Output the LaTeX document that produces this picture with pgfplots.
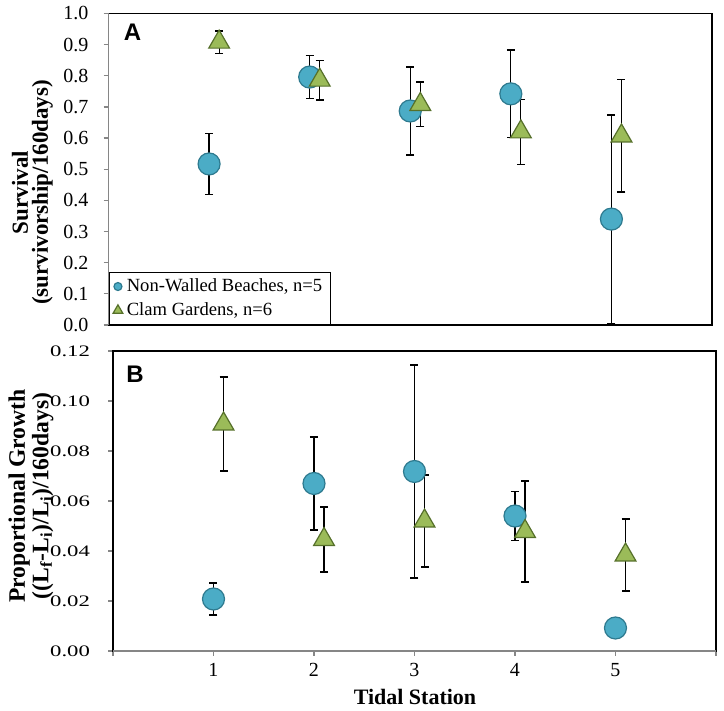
\documentclass[border=0pt]{standalone}
\usepackage{pgfplots}
\pgfplotsset{compat=1.18}
\usepackage{pgfplotstable}
\usepackage{fontspec}
\setmainfont{Liberation Serif}
\newfontfamily\panelfont{Liberation Sans}
\definecolor{nwfill}{HTML}{4BACC6}
\definecolor{nwedge}{HTML}{2E7A8F}
\definecolor{cgfill}{HTML}{9BBB59}
\definecolor{cgedge}{HTML}{56702A}
\definecolor{axgray}{HTML}{868686}

\pgfplotstableread{
x y e
1 0.517 0.097
2 0.796 0.070
3 0.687 0.141
4 0.742 0.141
5 0.340 0.334
}\topnw
\pgfplotstableread{
x y e
1.1 0.908 0.036
2.1 0.786 0.064
3.1 0.708 0.072
4.1 0.620 0.105
5.1 0.607 0.180
}\topcg
\pgfplotstableread{
x y e
1 0.0208 0.0064
2 0.0670 0.0186
3 0.0718 0.0426
4 0.0540 0.0098
5 0.0092 0.0000
}\botnw
\pgfplotstableread{
x y e
1.1 0.0908 0.0188
2.1 0.0446 0.0130
3.1 0.0520 0.0184
4.1 0.0478 0.0202
5.1 0.0384 0.0144
}\botcg

\pgfplotsset{
  panel/.style={
    scale only axis, xmin=0, xmax=6, clip=false,
    axis line style={black, line width=0.75pt},
    tick align=outside, major tick length=2.5pt,
    tick style={axgray, line width=0.6pt},
    ytick pos=left, xtick pos=bottom,
    tick label style={font=\rmfamily\fontsize{10}{12}\selectfont},
    /pgf/number format/assume math mode=true,
  },
  nw/.style={only marks, mark=*, mark size=5.5pt,
    mark options={fill=nwfill, draw=nwedge, line width=0.6pt},
    legend image code/.code={\draw[##1, mark size=2pt] plot coordinates {(0pt,0pt)};},
    error bars/.cd, y dir=both, y explicit,
    error bar style={black, line width=0.6pt},
    error mark options={rotate=90, mark size=2pt, black, line width=0.6pt}},
  cg/.style={only marks, mark=triangle*, mark size=6pt,
    mark options={fill=cgfill, draw=cgedge, line width=0.6pt},
    legend image code/.code={\draw[##1, mark size=2.8pt] plot coordinates {(0pt,0pt)};},
    error bars/.cd, y dir=both, y explicit,
    error bar style={black, line width=0.6pt},
    error mark options={rotate=90, mark size=2pt, black, line width=0.6pt}},
}

\begin{document}
\begin{tikzpicture}
\useasboundingbox (0,0) rectangle (362pt,355.5pt);

% ---- Panel A ----
\begin{axis}[panel,
  at={(54.25pt,193pt)}, anchor=south west,
  width=301.75pt, height=155.75pt,
  ymin=0, ymax=1, ytick={0,0.1,...,1.0}, xtick=\empty,
  yticklabel style={xshift=-4pt, /pgf/number format/.cd, fixed, fixed zerofill, precision=1},
  legend style={at={(0,0)}, anchor=south west, draw=black, line width=0.6pt,
    fill=white, inner xsep=2pt, inner ysep=1pt,
    font=\fontsize{9.3}{11}\selectfont, row sep=0pt,
    /tikz/every odd column/.append style={column sep=0pt}},
  legend cell align=left,
  after end axis/.code={\draw[axgray, line width=0.75pt] (rel axis cs:0,0) -- (rel axis cs:0,1);},
]
\addplot[nw] table[x=x, y=y, y error=e] {\topnw};
\addlegendentry{Non-Walled Beaches, n=5}
\addplot[cg] table[x=x, y=y, y error=e] {\topcg};
\addlegendentry{Clam Gardens, n=6}
\end{axis}

% ---- Panel B ----
\begin{axis}[panel,
  at={(56.5pt,30pt)}, anchor=south west,
  width=301.5pt, height=150pt,
  ymin=0, ymax=0.12, ytick={0,0.02,0.04,0.06,0.08,0.10,0.12},
  xtick={0,1,2,3,4,5,6}, xticklabels={{},1,2,3,4,5,{}},
  yticklabel style={xshift=-4pt, xscale=1.42, font=\rmfamily\fontsize{8}{10}\selectfont,
    /pgf/number format/.cd, fixed, fixed zerofill, precision=2},
  after end axis/.code={\draw[axgray, line width=0.75pt] (rel axis cs:0,0) -- (rel axis cs:1,0);},
]
\addplot[nw] table[x=x, y=y, y error=e] {\botnw};
\addplot[cg] table[x=x, y=y, y error=e] {\botcg};
\end{axis}

% labels
\node[font=\panelfont\bfseries\fontsize{12}{14}\selectfont] at (66.25pt,339.25pt) {A};
\node[font=\panelfont\bfseries\fontsize{12}{14}\selectfont] at (67.5pt,168.25pt) {B};
\node[rotate=90, align=center, font=\fontsize{11.5}{10}\selectfont\bfseries] at (16.25pt,259.25pt) {Survival\\(survivorship/160days)};
\node[rotate=90, align=center, font=\fontsize{11.8}{10}\selectfont\bfseries] at (15.5pt,107.5pt) {Proportional Growth\\((L\textsubscript{f}-L\textsubscript{i})/L\textsubscript{i})/160days)};
\node[font=\fontsize{11}{13}\selectfont\bfseries] at (207.5pt,7pt) {Tidal Station};
\end{tikzpicture}
\end{document}
